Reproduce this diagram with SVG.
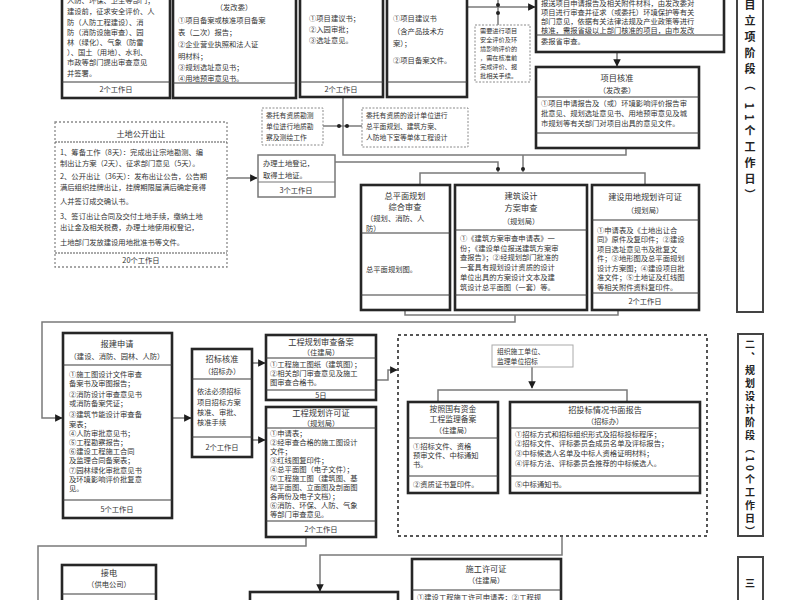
<svg xmlns="http://www.w3.org/2000/svg" width="800" height="600" viewBox="0 0 800 600">
<defs>
<style>
.b{fill:#fff;stroke:#262626;stroke-width:2.6}
.s{stroke:#3a3a3a;stroke-width:1.2}
.n{fill:#fff;stroke:#8a8a8a;stroke-width:1;stroke-dasharray:2 1.5}
.g{fill:#fff;stroke:#777;stroke-width:1.5}
.c{fill:none;stroke:#7a7a7a;stroke-width:1.5}
text{font-family:"Noto Sans CJK SC","Noto Sans",sans-serif;font-size:7.3px;fill:#333}
.h{font-size:8.2px;text-anchor:middle}
.m{text-anchor:middle}
.sm{font-size:6.8px}
.xs{font-size:6.2px}
.v{font-size:11px;fill:#222;font-weight:bold;writing-mode:vertical-rl;letter-spacing:5px}
.v2{font-size:10px;fill:#222;font-weight:bold;writing-mode:vertical-rl;letter-spacing:3px}
</style>
<marker id="a" viewBox="0 0 6 6" refX="5.5" refY="3" markerWidth="5" markerHeight="5" orient="auto">
<path d="M0,0 L6,3 L0,6 z" fill="#1e1e1e"/>
</marker>
</defs>
<rect width="800" height="600" fill="#fff"/>

<g id="connectors">
<path class="c" d="M466,7 H535" marker-end="url(#a)"/>
<path class="c" d="M498,-5 V25"/>
<circle cx="498" cy="5" r="2" fill="#222"/><circle cx="498" cy="13" r="2" fill="#222"/>
<path class="c" d="M617,52 V66" marker-end="url(#a)"/>
<path class="c" d="M626,148 V155 H343 V97"/>
<path class="c" d="M323,126 H362"/>
<circle cx="339" cy="126" r="2" fill="#222"/><circle cx="347" cy="126" r="2" fill="#222"/>
<path class="c" d="M227,178 H257" marker-end="url(#a)"/>
<path class="c" d="M335,162 H498 V172"/>
<path class="c" d="M523,155 V172"/>
<circle cx="498" cy="169" r="2" fill="#222"/><circle cx="523" cy="169" r="2" fill="#222"/>
<path class="c" d="M420,185 V173 H645 V185"/>
<path class="c" d="M405,310 V315 H618 V310"/>
<path class="c" d="M515,315 V322 H42 V418 H62" marker-end="url(#a)"/>
<path class="c" d="M172,418 H191" marker-end="url(#a)"/>
<path class="c" d="M252,363 H265" marker-end="url(#a)"/>
<path class="c" d="M252,440 H265" marker-end="url(#a)"/>
<path class="c" d="M376,380 H388 V370 H397" marker-end="url(#a)"/>
<path class="c" d="M532,367 V388" marker-end="url(#a)"/>
<path class="c" d="M438,402 V390 H627 V402"/>
<path class="c" d="M306,537 V546 H38 V602"/>
<path class="c" d="M562,536 V555 H320 V591" marker-end="url(#a)"/>
</g>

<g id="node-review">
<rect class="b" x="62" y="-10" width="108" height="108"/>
<line class="s" x1="62" y1="82" x2="170" y2="82"/>
<text x="67" y="3">人防、环保、卫生等部门；</text>
<text x="67" y="14">建设前，征求安全评价、人</text>
<text x="67" y="25">防（人防工程建设）、消</text>
<text x="67" y="35">防（消防设施审查）、园</text>
<text x="67" y="45">林（绿化）、气象（防雷</text>
<text x="67" y="55">）、国土（用地）、水利、</text>
<text x="67" y="65">市政等部门提出审查意见</text>
<text x="67" y="76">并签署。</text>
<text class="m" x="116" y="92">2个工作日</text>
</g>

<g id="node-fgw">
<rect class="b" x="173" y="-10" width="123" height="108"/>
<line class="s" x1="173" y1="83" x2="296" y2="83"/>
<text class="m" x="234" y="10">（发改委）</text>
<text x="178" y="23">①项目备案或核准项目备案</text>
<text x="178" y="35">表（二次）报告；</text>
<text x="178" y="47">②企业营业执照和法人证</text>
<text x="178" y="59">明材料；</text>
<text x="178" y="70">③规划选址意见书；</text>
<text x="178" y="81">④用地预审意见书。</text>
</g>

<g id="node-site">
<rect class="b" x="300" y="-10" width="83" height="107"/>
<line class="s" x1="300" y1="82" x2="383" y2="82"/>
<text x="309" y="21">①项目建议书；</text>
<text x="309" y="32">②入园审批；</text>
<text x="309" y="43">③选址意见。</text>
<text class="m" x="341" y="92">2个工作日</text>
</g>

<g id="node-filing">
<rect class="b" x="387" y="-10" width="80" height="107"/>
<line class="s" x1="387" y1="82" x2="467" y2="82"/>
<text x="393" y="21">①项目建议书</text>
<text x="393" y="34">（含产品技术方</text>
<text x="393" y="46">案）；</text>
<text x="393" y="63">②项目备案文件。</text>
</g>

<g id="note-eval">
<rect class="n" x="475" y="25" width="55" height="57"/>
<text class="xs" x="480" y="33">需要进行项目</text>
<text class="xs" x="480" y="42">安全评价及环</text>
<text class="xs" x="480" y="51">境影响评价的</text>
<text class="xs" x="480" y="60">，需在核准前</text>
<text class="xs" x="480" y="69">完成评价、报</text>
<text class="xs" x="480" y="78">批相关手续。</text>
</g>

<g id="node-report">
<rect class="b" x="536" y="-10" width="188" height="62"/>
<line class="s" x1="536" y1="35" x2="724" y2="35"/>
<text x="541" y="6">报送项目申请报告及相关附件材料，由发改委对</text>
<text x="541" y="15">项目进行审查并征求（或委托）环境保护等有关</text>
<text x="541" y="24">部门意见，依据有关法律法规及产业政策等进行</text>
<text x="541" y="33">核准，需报省级以上部门核准的项目，由市发改</text>
<text x="541" y="44">委报省审查。</text>
</g>

<g id="node-approve">
<rect class="b" x="536" y="67" width="163" height="81"/>
<line class="s" x1="536" y1="97" x2="699" y2="97"/>
<line class="s" x1="536" y1="133" x2="699" y2="133"/>
<text class="h" x="617" y="81">项目核准</text>
<text class="m" x="617" y="93">（发改委）</text>
<text x="541" y="106">①项目申请报告及（或）环境影响评价报告审</text>
<text x="541" y="116">批意见、规划选址意见书、用地预审意见及城</text>
<text x="541" y="126">市规划等有关部门对项目出具的意见文件。</text>
</g>

<g id="band-1">
<rect x="737" y="-5" width="26" height="317" fill="#fff" stroke="#444" stroke-width="2"/>
<text class="v" x="750" y="-17">项目立项阶段（ 11个工作日）</text>
</g>

<g id="node-land">
<rect x="55" y="122" width="172" height="145" fill="#fff" stroke="#8a8a8a" stroke-width="1.3" stroke-dasharray="2 2"/>
<line x1="55" y1="142" x2="227" y2="142" stroke="#555" stroke-width="1.2" stroke-dasharray="2 1"/>
<line x1="55" y1="253" x2="227" y2="253" stroke="#555" stroke-width="1.2" stroke-dasharray="2 1"/>
<text class="h" x="141" y="137">土地公开出让</text>
<text x="60" y="155">1、筹备工作（8天）：完成出让宗地勘测、编</text>
<text x="60" y="166">制出让方案（2天）、征求部门意见（5天）。</text>
<text x="60" y="179">2、公开出让（36天）：发布出让公告，公告期</text>
<text x="60" y="190">满后组织挂牌出让，挂牌期限届满后确定竞得</text>
<text x="60" y="204">人并签订成交确认书。</text>
<text x="60" y="219">3、签订出让合同及交付土地手续，缴纳土地</text>
<text x="60" y="230">出让金及相关税费，办理土地使用权登记，</text>
<text x="60" y="245">土地部门发放建设用地批准书等文件。</text>
<text class="m" x="141" y="263">20个工作日</text>
</g>

<g id="note-survey">
<rect class="n" x="262" y="108" width="61" height="37"/>
<text class="sm" x="266" y="118">委托有资质勘测</text>
<text class="sm" x="266" y="129">单位进行地质勘</text>
<text class="sm" x="266" y="140">察及测绘工作</text>
</g>

<g id="note-design">
<rect class="n" x="362" y="108" width="106" height="39"/>
<text class="sm" x="366" y="118">委托有资质的设计单位进行</text>
<text class="sm" x="366" y="129">总平面规划、建筑方案、</text>
<text class="sm" x="366" y="140">人防地下室等单体工程设计</text>
</g>

<g id="node-landreg">
<rect class="g" x="258" y="155" width="77" height="42"/>
<line x1="258" y1="182" x2="335" y2="182" stroke="#777" stroke-width="1.2"/>
<text x="263" y="166">办理土地登记，</text>
<text x="263" y="178">取得土地证。</text>
<text class="m" x="296" y="193">3个工作日</text>
</g>

<g id="node-siteplan">
<rect class="b" x="361" y="185" width="89" height="125"/>
<line class="s" x1="361" y1="233" x2="450" y2="233"/>
<line class="s" x1="361" y1="295" x2="450" y2="295"/>
<text class="h" x="405" y="199">总平面规划</text>
<text class="h" x="405" y="210">综合审查</text>
<text x="366" y="221">（规划、消防、人</text>
<text x="366" y="231">防）</text>
<text x="366" y="272">总平面规划图。</text>
</g>

<g id="node-scheme">
<rect class="b" x="455" y="185" width="132" height="125"/>
<line class="s" x1="455" y1="230" x2="587" y2="230"/>
<line class="s" x1="455" y1="295" x2="587" y2="295"/>
<text class="h" x="521" y="199">建筑设计</text>
<text class="h" x="521" y="211">方案审查</text>
<text class="m" x="521" y="224">（规划局）</text>
<text x="460" y="241">①《建筑方案审查申请表》一</text>
<text x="460" y="251">份；《建设单位报送建筑方案审</text>
<text x="460" y="260">查报告》；②经规划部门批准的</text>
<text x="460" y="270">一套具有规划设计资质的设计</text>
<text x="460" y="280">单位出具的方案设计文本及建</text>
<text x="460" y="290">筑设计总平面图（一套）等。</text>
</g>

<g id="node-landpermit">
<rect class="b" x="592" y="185" width="107" height="125"/>
<line class="s" x1="592" y1="220" x2="699" y2="220"/>
<line class="s" x1="592" y1="293" x2="699" y2="293"/>
<text class="h" x="645" y="200">建设用地规划许可证</text>
<text class="m" x="645" y="213">（规划局）</text>
<text x="597" y="233">①申请表及《土地出让合</text>
<text x="597" y="242">同》原件及复印件；②建设</text>
<text x="597" y="252">项目选址意见书及批复文</text>
<text x="597" y="261">件；③地形图及总平面规划</text>
<text x="597" y="271">设计方案图；④建设项目批</text>
<text x="597" y="280">准文件；⑤土地证及红线图</text>
<text x="597" y="290">等相关附件资料复印件。</text>
<text class="m" x="645" y="304">2个工作日</text>
</g>

<g id="node-apply">
<rect class="b" x="63" y="333" width="109" height="185"/>
<line class="s" x1="63" y1="365" x2="172" y2="365"/>
<line class="s" x1="63" y1="500" x2="172" y2="500"/>
<text class="h" x="117" y="347">报建申请</text>
<text class="m" x="117" y="359">（建设、消防、园林、人防）</text>
<text x="69" y="377">①施工图设计文件审查</text>
<text x="69" y="386">备案书及审图报告；</text>
<text x="69" y="397">②消防设计审查意见书</text>
<text x="69" y="406">或消防备案凭证；</text>
<text x="69" y="417">③建筑节能设计审查备</text>
<text x="69" y="427">案表；</text>
<text x="69" y="436">④人防审批意见书；</text>
<text x="69" y="445">⑤工程勘察报告；</text>
<text x="69" y="454">⑥建设工程施工合同</text>
<text x="69" y="463">及监理合同备案表；</text>
<text x="69" y="473">⑦园林绿化审批意见书</text>
<text x="69" y="482">及环境影响评价批复意</text>
<text x="69" y="491">见。</text>
<text class="m" x="117" y="512">5个工作日</text>
</g>

<g id="node-bid">
<rect class="b" x="192" y="349" width="60" height="108"/>
<line class="s" x1="192" y1="379" x2="252" y2="379"/>
<line class="s" x1="192" y1="437" x2="252" y2="437"/>
<text class="h" x="222" y="362">招标核准</text>
<text class="m" x="222" y="374">（招标办）</text>
<text x="197" y="394">依法必须招标</text>
<text x="197" y="405">项目招标方案</text>
<text x="197" y="415">核准、审批、</text>
<text x="197" y="425">核准手续</text>
<text class="m" x="222" y="450">2个工作日</text>
</g>

<g id="node-planreview">
<rect class="b" x="266" y="335" width="110" height="65"/>
<line class="s" x1="266" y1="358" x2="376" y2="358"/>
<line class="s" x1="266" y1="390" x2="376" y2="390"/>
<text class="h" x="321" y="345">工程规划审查备案</text>
<text class="m" x="321" y="355">（住建局）</text>
<text x="270" y="367">①工程施工图纸（建筑图）；</text>
<text x="270" y="376">②相关部门审查意见及施工</text>
<text x="270" y="385">图审查合格书。</text>
<text class="m" x="321" y="398">5日</text>
</g>

<g id="node-planpermit">
<rect class="b" x="266" y="407" width="110" height="130"/>
<line class="s" x1="266" y1="428" x2="376" y2="428"/>
<line class="s" x1="266" y1="521" x2="376" y2="521"/>
<text class="h" x="321" y="416">工程规划许可证</text>
<text class="m" x="321" y="426">（规划局）</text>
<text x="270" y="436">①申请表；</text>
<text x="270" y="445">②经审查合格的施工图设计</text>
<text x="270" y="454">文件；</text>
<text x="270" y="463">③红线图复印件；</text>
<text x="270" y="472">④总平面图（电子文件）；</text>
<text x="270" y="481">⑤工程施工图（建筑图、基</text>
<text x="270" y="490">础平面图、立面图及剖面图</text>
<text x="270" y="499">各两份及电子文档）；</text>
<text x="270" y="508">⑥消防、环保、人防、气象</text>
<text x="270" y="517">等部门审查意见。</text>
<text class="m" x="321" y="532">2个工作日</text>
</g>

<g id="group-tender">
<rect x="398" y="335" width="309" height="201" fill="none" stroke="#555" stroke-width="2" stroke-dasharray="3 3"/>
</g>

<g id="note-tender">
<rect x="492" y="345" width="81" height="22" fill="#fff" stroke="#aaa" stroke-width="1"/>
<text class="sm" x="497" y="354">组织施工单位、</text>
<text class="sm" x="497" y="364">监理单位招标</text>
</g>

<g id="node-supervision">
<rect class="b" x="408" y="402" width="90" height="91"/>
<line class="s" x1="408" y1="438" x2="498" y2="438"/>
<line class="s" x1="408" y1="476" x2="498" y2="476"/>
<text class="m" x="453" y="412" style="font-size:7.8px">按照国有资金</text>
<text class="m" x="453" y="422" style="font-size:7.8px">工程监理备案</text>
<text class="m" x="453" y="433">（住建局）</text>
<text x="413" y="449">①招标文件、资格</text>
<text x="413" y="458">预审文件、中标通知</text>
<text x="413" y="467">书。</text>
<text x="413" y="487">②资质证书复印件。</text>
</g>

<g id="node-tenderreport">
<rect class="b" x="510" y="402" width="190" height="91"/>
<line class="s" x1="510" y1="428" x2="700" y2="428"/>
<line class="s" x1="510" y1="476" x2="700" y2="476"/>
<text class="h" x="605" y="413">招投标情况书面报告</text>
<text class="m" x="605" y="424">（招标办）</text>
<text x="515" y="437">①招标方式和招标组织形式及招标投标程序；</text>
<text x="515" y="446">②招标文件、评标委员会成员名单及评标报告；</text>
<text x="515" y="456">③中标候选人名单及中标人资格证明材料；</text>
<text x="515" y="466">④评标方法、评标委员会推荐的中标候选人。</text>
<text x="515" y="487">⑤中标通知书。</text>
</g>

<g id="band-2">
<rect x="738" y="334" width="25" height="202" fill="#fff" stroke="#444" stroke-width="2"/>
<text class="v2" x="750" y="339">二、规划设计阶段（10个工作日）</text>
</g>

<g id="node-power">
<rect class="b" x="62" y="565" width="94" height="50"/>
<line class="s" x1="62" y1="594" x2="156" y2="594"/>
<text class="h" x="109" y="576">接电</text>
<text class="m" x="109" y="587">（供电公司）</text>
</g>

<g id="node-next">
<rect class="b" x="250" y="592" width="148" height="20"/>
</g>

<g id="node-construct">
<rect class="b" x="412" y="559" width="149" height="55"/>
<line class="s" x1="412" y1="590" x2="561" y2="590"/>
<text class="h" x="486" y="572">施工许可证</text>
<text class="m" x="486" y="583">（住建局）</text>
<text x="417" y="600">①建设工程施工许可申请表；②工程规</text>
</g>

<g id="band-3">
<rect x="738" y="557" width="25" height="60" fill="#fff" stroke="#444" stroke-width="2"/>
<text class="v2" x="750" y="578">三</text>
</g>
</svg>
